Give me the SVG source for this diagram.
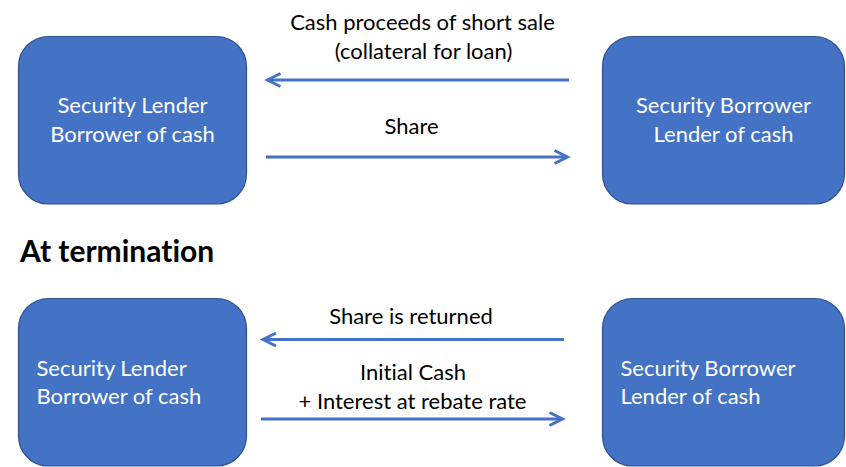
<svg xmlns="http://www.w3.org/2000/svg" width="846" height="467" viewBox="0 0 846 467">
<style>
text{font-variant-ligatures:none}
.box{fill:#4472C4;stroke:#2F528F;stroke-width:1.2}
.nt{font-family:Lato,"Open Sans",sans-serif;font-size:22px;fill:#ffffff}
.lt{font-family:Lato,"Open Sans",sans-serif;font-size:22px;fill:#000000}
.conn{stroke:#4472C4;stroke-width:3;fill:none}
</style>
<defs>
<marker id="ah" markerUnits="userSpaceOnUse" viewBox="-16 -10 20 20" refX="0" refY="0" markerWidth="20" markerHeight="20" orient="auto" overflow="visible">
<path d="M-13,-6.5 L0,0 L-13,6.5" fill="none" stroke="#4472C4" stroke-width="3" stroke-linejoin="miter"/>
</marker>
</defs>
<rect width="846" height="467" fill="#ffffff"/>
<g id="n1"><rect class="box" x="18.5" y="36.5" width="228" height="167.5" rx="30"/>
<text class="nt" text-anchor="middle" x="132.5" y="112.5">Security Lender</text>
<text class="nt" text-anchor="middle" x="132.5" y="141.5">Borrower of cash</text></g>
<g id="n2"><rect class="box" x="602.5" y="36.5" width="242" height="167.5" rx="30"/>
<text class="nt" text-anchor="middle" x="723.5" y="112.5">Security Borrower</text>
<text class="nt" text-anchor="middle" x="723.5" y="141.5">Lender of cash</text></g>
<g id="n3"><rect class="box" x="18.5" y="298.5" width="228" height="167.5" rx="30"/>
<text class="nt" x="36.5" y="376">Security Lender</text>
<text class="nt" x="36.5" y="404">Borrower of cash</text></g>
<g id="n4"><rect class="box" x="602.5" y="298.5" width="242" height="167.5" rx="30"/>
<text class="nt" x="620.5" y="376">Security Borrower</text>
<text class="nt" x="620.5" y="404">Lender of cash</text></g>
<g id="connectors">
<path class="conn" d="M569,80 L267.5,80" marker-end="url(#ah)"/>
<path class="conn" d="M266,157 L567.5,157" marker-end="url(#ah)"/>
<path class="conn" d="M564,339.5 L263,339.5" marker-end="url(#ah)"/>
<path class="conn" d="M261,419 L562.5,419" marker-end="url(#ah)"/>
</g>
<g id="labels">
<text class="lt" text-anchor="middle" x="422.5" y="30">Cash proceeds of short sale</text>
<text class="lt" text-anchor="middle" x="423.5" y="58.5">(collateral for loan)</text>
<text class="lt" text-anchor="middle" x="411.5" y="134">Share</text>
<text class="lt" text-anchor="middle" x="411" y="323.5">Share is returned</text>
<text class="lt" text-anchor="middle" x="413" y="380">Initial Cash</text>
<text class="lt" text-anchor="middle" x="412.5" y="408.5">+ Interest at rebate rate</text>
<text x="20" y="261.5" font-family="Lato,'Open Sans',sans-serif" font-size="30" font-weight="bold" fill="#000000">At termination</text>
</g>
</svg>
